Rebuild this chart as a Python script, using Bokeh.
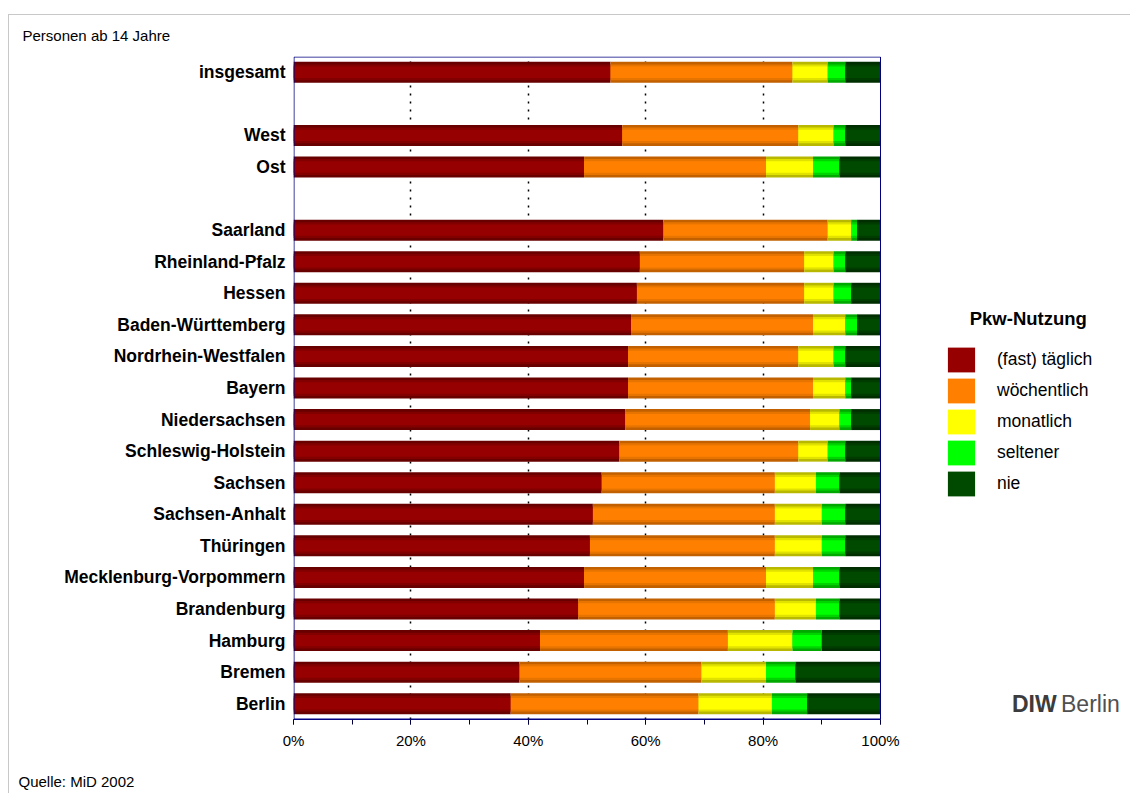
import numpy as np
from bokeh.plotting import figure
from bokeh.models import (ColumnDataSource, FactorRange, Range1d, SingleIntervalTicker,
                          FixedTicker, PrintfTickFormatter, Legend, LegendItem, Title,
                          BoxAnnotation)
from bokeh.embed import file_html
from bokeh.resources import INLINE

# ---------------- data (percent of persons aged 14+) ----------------
categories = ["insgesamt", "West", "Ost", "Saarland", "Rheinland-Pfalz", "Hessen",
              "Baden-Württemberg", "Nordrhein-Westfalen", "Bayern", "Niedersachsen",
              "Schleswig-Holstein", "Sachsen", "Sachsen-Anhalt", "Thüringen",
              "Mecklenburg-Vorpommern", "Brandenburg", "Hamburg", "Bremen", "Berlin"]
taeglich     = [54, 56, 49.5, 63, 59, 58.5, 57.5, 57, 57, 56.5, 55.5, 52.5, 51, 50.5, 49.5, 48.5, 42, 38.5, 37]
woechentlich = [31, 30, 31, 28, 28, 28.5, 31, 29, 31.5, 31.5, 30.5, 29.5, 31, 31.5, 31, 33.5, 32, 31, 32]
monatlich    = [6, 6, 8, 4, 5, 5, 5.5, 6, 5.5, 5, 5, 7, 8, 8, 8, 7, 11, 11, 12.5]
seltener     = [3, 2, 4.5, 1, 2, 3, 2, 2, 1, 2, 3, 4, 4, 4, 4.5, 4, 5, 5, 6]
nie          = [6, 6, 7, 4, 6, 5, 4, 6, 5, 5, 6, 7, 6, 6, 7, 7, 10, 14.5, 12.5]

series_labels = ["(fast) täglich", "wöchentlich", "monatlich", "seltener", "nie"]

# row order top -> bottom, blank rows separate the groups
row_order = ["insgesamt", " ", "West", "Ost", "  "] + categories[3:]

FONT = "Liberation Sans"
main_colors = ["#960000", "#ff8000", "#ffff00", "#00ff00", "#004a00"]
mid_colors  = ["#820000", "#e87400", "#e2e200", "#00d400", "#003c00"]
edge_colors = ["#680000", "#c26000", "#b8b800", "#00a800", "#002e00"]

keys = ["s0", "s1", "s2", "s3", "s4"]
src = ColumnDataSource(dict(cat=categories, s0=taeglich, s1=woechentlich,
                            s2=monatlich, s3=seltener, s4=nie))

# the frame is widened to the right so that legend and logo text sit inside it;
# 0..100 % occupies the first 587 px of the 829 px wide frame
BAR_W, FRAME_W = 587, 829
p = figure(y_range=FactorRange(factors=list(reversed(row_order))),
           x_range=Range1d(0, 100 * FRAME_W / BAR_W),
           frame_width=FRAME_W, frame_height=663,
           min_border_left=284, min_border_right=8,
           min_border_top=41, min_border_bottom=74,
           output_backend="svg", toolbar_location=None,
           background_fill_color="white", border_fill_color="white")
p.margin = (14, 0, 0, 8)
p.styles = {"border-top": "1px solid #c8c8c8", "border-left": "1px solid #c8c8c8"}
p.outline_line_color = None

# three layers to mimic the shaded bars
p.hbar_stack(keys, y="cat", height=0.665, fill_color=edge_colors, line_color=None, source=src)
p.hbar_stack(keys, y="cat", height=0.50, fill_color=mid_colors, line_color=None, source=src)
main_r = p.hbar_stack(keys, y="cat", height=0.36, fill_color=main_colors, line_color=None, source=src)

# invisible renderer used for the logo texts
dummy = p.scatter(x=[], y=[], fill_alpha=0, line_alpha=0, size=0)

# grid
p.ygrid.grid_line_color = None
p.xgrid.ticker = FixedTicker(ticks=[20, 40, 60, 80])
p.xgrid.grid_line_color = "black"
p.xgrid.grid_line_dash = "2 6"
p.xgrid.grid_line_width = 1.5

# navy box around the 0-100 % plot area
p.add_layout(BoxAnnotation(left=0.5, left_units="screen", right=100, right_units="data",
                           top=662.5, top_units="screen", bottom=0.5, bottom_units="screen",
                           fill_alpha=0, line_color="#000080", line_alpha=1, line_width=1))

# x axis
p.xaxis.bounds = (0, 100)
p.xaxis.ticker = SingleIntervalTicker(interval=20, num_minor_ticks=2)
p.xaxis.formatter = PrintfTickFormatter(format="%d%%")
p.xaxis.axis_line_color = "#000080"
p.xaxis.major_tick_line_color = "#000040"
p.xaxis.minor_tick_line_color = "#000040"
p.xaxis.major_tick_in = 0
p.xaxis.major_tick_out = 5
p.xaxis.minor_tick_in = 0
p.xaxis.minor_tick_out = 5
p.xaxis.major_label_standoff = 7
p.xaxis.major_label_text_font = FONT
p.xaxis.major_label_text_font_size = "15px"
p.xaxis.major_label_text_color = "black"

# y axis
p.yaxis.axis_line_color = None
p.yaxis.major_tick_line_color = None
p.yaxis.major_tick_out = 0
p.yaxis.major_tick_in = 0
p.yaxis.minor_tick_line_color = None
p.yaxis.major_label_standoff = 8
p.yaxis.major_label_text_font = FONT
p.yaxis.major_label_text_font_size = "17.5px"
p.yaxis.major_label_text_font_style = "bold"
p.yaxis.major_label_text_color = "black"

# legend
items = [LegendItem(label=lab, renderers=[r]) for lab, r in zip(series_labels, main_r)]
legend = Legend(items=items, location=(651, 220), orientation="vertical",
                title="\u00a0\u00a0\u00a0\u00a0\u00a0Pkw-Nutzung", title_text_font=FONT,
                title_text_font_size="18.5px", title_text_font_style="bold",
                title_text_color="black", title_standoff=14,
                glyph_width=34, glyph_height=31, label_standoff=19, spacing=0,
                padding=0, margin=0, border_line_color=None, background_fill_alpha=0,
                label_text_font=FONT, label_text_font_size="17.5px",
                label_text_color="black")
p.add_layout(legend)

def text_legend(text, loc, size, style="normal", color="black", font=FONT):
    lg = Legend(items=[LegendItem(label=text, renderers=[dummy])], location=loc,
                glyph_width=0, glyph_height=20, label_height=20, label_standoff=0,
                padding=0, margin=0, border_line_color=None, background_fill_alpha=0,
                label_text_font=font, label_text_font_size=size,
                label_text_font_style=style, label_text_color=color)
    p.add_layout(lg)

text_legend("DIW", (719, 1), "23px", style="bold", color="#3c3c3c")
text_legend("Berlin", (768, 1), "23px", color="#505050")

# header and source notes
p.add_layout(Title(text="Personen ab 14 Jahre", align="left", offset=-271, standoff=22,
                   vertical_align="top",
                   text_font=FONT, text_font_size="15px", text_font_style="normal",
                   text_color="black"), "above")
p.add_layout(Title(text="Quelle: MiD 2002", align="left", offset=-275, standoff=38,
                   text_font=FONT, text_font_size="15px", text_font_style="normal",
                   text_color="black"), "below")

open("out.html", "w").write(file_html(p, INLINE))
